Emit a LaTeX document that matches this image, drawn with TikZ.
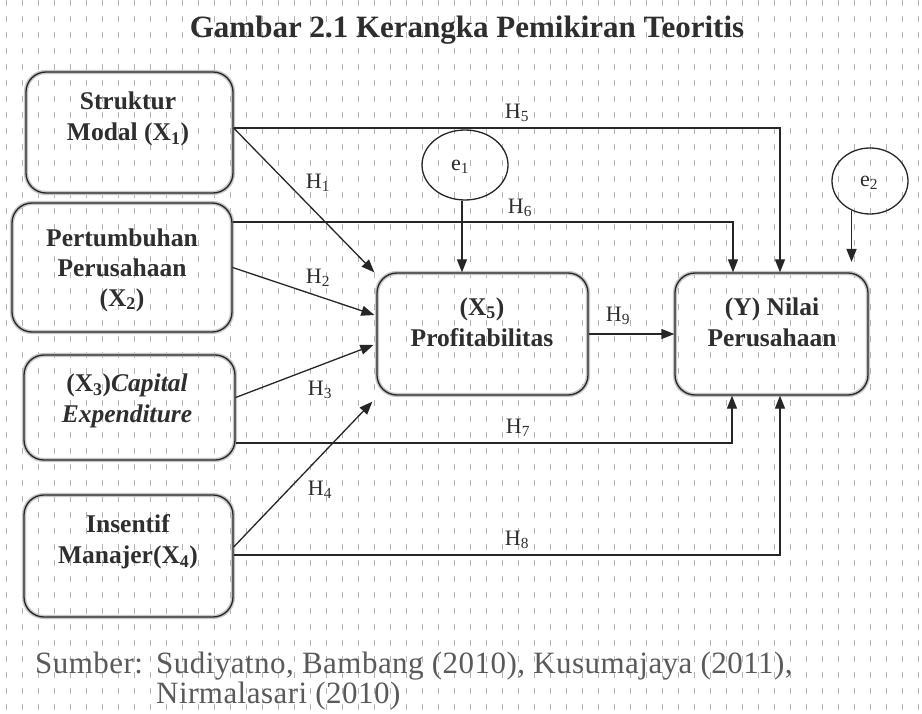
\documentclass[tikz,border=0pt]{standalone}
\usepackage{fontspec}
\setmainfont{Liberation Serif}
\usetikzlibrary{arrows.meta,shapes.geometric}
\definecolor{ink}{HTML}{262626}
\definecolor{txt}{HTML}{2E2E2E}
\definecolor{srcc}{HTML}{5A5A5A}
\definecolor{gridc}{HTML}{B4B4B4}
\begin{document}
\begin{tikzpicture}[x=1pt,y=-1pt,
  box/.style={draw=ink, line width=1.3pt, rounded corners=20pt, inner sep=0pt,
    preaction={draw=gray!45, line width=4.2pt}},
  btxt/.style={align=center, text=txt, font=\fontsize{25.5}{31}\selectfont\bfseries},
  hlab/.style={text=txt, font=\fontsize{22}{24}\selectfont, inner sep=0pt},
  eell/.style={ellipse, draw=ink, line width=1.3pt, inner sep=0pt},
  arr/.style={draw=ink, line width=1.3pt, -{Triangle[length=13pt,width=10pt]}},
  srct/.style={anchor=base west, text=srcc, font=\fontsize{31}{33}\selectfont\addfontfeature{LetterSpace=1.5}, inner sep=0pt}]
\useasboundingbox (0,0) rectangle (922,714);
\fill[white] (0,0) rectangle (922,714);
% background drawing grid
\foreach \gx in {6,22,...,918}
  \draw[gridc, line width=0.8pt, dash pattern=on 6pt off 10pt] (\gx,0) -- (\gx,714);

% title
\node[text=txt, font=\fontsize{31}{36}\selectfont\bfseries] (title) at (467,30) {Gambar 2.1 Kerangka Pemikiran Teoritis};

% boxes
\node[box, minimum width=207pt, minimum height=121pt] (x1) at (129.5,132.5) {};
\node[box, minimum width=220pt, minimum height=129pt] (x2) at (122,267.5) {};
\node[box, minimum width=211pt, minimum height=105pt] (x3) at (129.5,407.5) {};
\node[box, minimum width=209pt, minimum height=122pt] (x4) at (128.5,556) {};
\node[box, minimum width=211pt, minimum height=122pt] (x5) at (482.5,334) {};
\node[box, minimum width=193pt, minimum height=122pt] (y) at (771.5,334) {};

% box texts
\node[btxt] (x1t) at (128,119) {Struktur\\Modal (X\textsubscript{1})};
\node[btxt, font=\fontsize{25.5}{30}\selectfont\bfseries] (x2t) at (122,270) {Pertumbuhan\\Perusahaan\\(X\textsubscript{2})};
\node[btxt] (x3t) at (127,401) {(X\textsubscript{3})\textit{Capital}\\\textit{Expenditure}};
\node[btxt] (x4t) at (128,542) {Insentif\\Manajer(X\textsubscript{4})};
\node[btxt] (x5t) at (482,322) {(X\textsubscript{5})\\Profitabilitas};
\node[btxt] (yt) at (772,322) {(Y) Nilai\\Perusahaan};

% error terms
\node[eell, minimum width=86pt, minimum height=70pt] (e1) at (465,165) {};
\node[hlab] (e1t) at (460,167) {e\textsubscript{1}};
\node[eell, minimum width=76pt, minimum height=66pt] (e2) at (870,181) {};
\node[hlab] (e2t) at (869,183) {e\textsubscript{2}};

% helper coordinates
\coordinate (h5c) at (780,128);
\coordinate (h6c) at (733,222);
\coordinate (h7c) at (732,443);
\coordinate (h8c) at (780,555);
\coordinate (e2end) at (852,262);

% connectors to Y
\draw[arr] (x1.east |- h5c) -- (h5c) -- (y.north -| h5c);
\draw[arr] (x2.east |- h6c) -- (h6c) -- (y.north -| h6c);
\draw[arr] (x3.east |- h7c) -- (h7c) -- (y.south -| h7c);
\draw[arr] (x4.east |- h8c) -- (h8c) -- (y.south -| h8c);
\draw[arr] (x5.east) -- (y.west);
% connectors to X5
\draw[arr] (x1.east |- h5c) -- ([xshift=-2pt]x5.north west);
\draw[arr] (x2.east) -- ([xshift=-2pt,yshift=19pt]x5.west);
\draw[arr] ([yshift=10pt]x3.east) -- ([xshift=-3pt,yshift=-11pt]x5.west);
\draw[arr] ([yshift=9pt]x4.east) -- ([xshift=-4pt,yshift=-6pt]x5.south west);
% error arrows
\draw[arr] (e1.south -| 462,0) -- (x5.north -| 462,0);
\draw[arr] (e2.238) -- (e2.238 |- e2end);

% hypothesis labels
\node[hlab] (h1) at (318,183) {H\textsubscript{1}};
\node[hlab] (h2) at (318,278) {H\textsubscript{2}};
\node[hlab] (h3) at (320,390) {H\textsubscript{3}};
\node[hlab] (h4) at (320,490) {H\textsubscript{4}};
\node[hlab] (h5) at (517,113) {H\textsubscript{5}};
\node[hlab] (h6) at (520,208) {H\textsubscript{6}};
\node[hlab] (h7) at (518,428) {H\textsubscript{7}};
\node[hlab] (h8) at (517,540) {H\textsubscript{8}};
\node[hlab] (h9) at (618,316) {H\textsubscript{9}};

% source
\node[srct] (src1) at (35,673) {Sumber:};
\node[srct] (src2) at (156,673) {Sudiyatno, Bambang (2010), Kusumajaya (2011),};
\node[srct] (src3) at (156,703) {Nirmalasari (2010)};
\end{tikzpicture}
\end{document}
